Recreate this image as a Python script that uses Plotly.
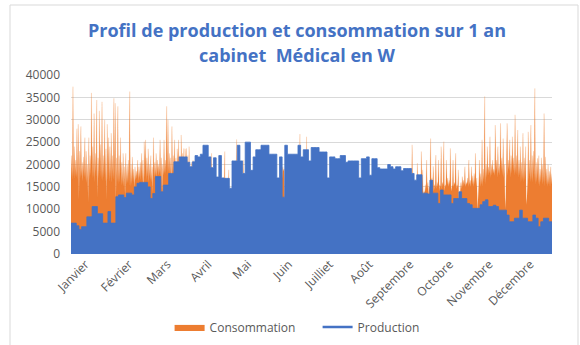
import plotly.graph_objects as go

# Month labels along the time axis and the day of year where each label sits
mois = ["Janvier", "Février", "Mars", "Avril", "Mai", "Juin", "Juilliet",
        "Août", "Septembre", "Octobre", "Novembre", "Décembre"]
jour_etiquette = [11, 44, 73, 104, 134, 165, 196, 226, 257, 287, 317, 348]

titre = ["Profil de production et consommation sur 1 an",
         "cabinet\u00a0 Médical en W"]

# Production (W): daily maximum, one value every 2 days
production = [
    6900, 6900, 6300, 5500, 6100, 6100, 8300, 8300, 10600, 10600,
    9000, 9000, 6900, 6900, 9500, 6900, 6900, 12800, 13200, 13200,
    12600, 13600, 13600, 13200, 15000, 15800, 16000, 16000, 16000, 15000,
    12400, 13500, 17300, 17300, 13900, 15400, 15400, 18000, 18000, 20600,
    20600, 21700, 21700, 21700, 20500, 19500, 20600, 22000, 21700, 22300,
    24300, 24300, 21700, 19300, 21500, 17200, 22000, 17000, 16900, 16900,
    14700, 20800, 20800, 24300, 20800, 18000, 25000, 25000, 18700, 21700,
    23300, 23300, 24300, 24300, 24300, 22300, 22300, 22300, 17000, 21700,
    12700, 24300, 22300, 22300, 22300, 22300, 24300, 21700, 23300, 23300,
    20800, 23800, 23800, 23800, 22800, 22800, 22800, 17000, 21700, 21700,
    21300, 21300, 22000, 22000, 20500, 20800, 20800, 20800, 20800, 17000,
    21300, 21300, 21700, 17600, 21300, 21300, 19300, 19000, 19000, 19000,
    20000, 19500, 19000, 19500, 19500, 18600, 19100, 19100, 19100, 18000,
    16500, 17700, 17700, 13600, 13600, 13400, 16500, 13600, 13600, 11300,
    14300, 13200, 13200, 13200, 11300, 12400, 12400, 13900, 12400, 12400,
    11300, 11000, 10200, 10200, 10200, 11000, 11700, 12100, 10600, 10600,
    10900, 10600, 9800, 9800, 9800, 8700, 7200, 7200, 8000, 8000,
    9800, 8000, 8000, 7200, 7200, 8700, 8000, 6100, 7200, 8000,
    8000, 7200, 7200,
]

# Consommation (W): daily peak
conso_pic = [
    22000, 37400, 24000, 21000, 28000, 29000, 23000, 28500, 20500, 21700,
    26000, 23000, 20000, 26000, 22000, 36000, 24000, 31400, 22500, 34400,
    21500, 32000, 24500, 34000, 22000, 30000, 23500, 29000, 26000, 24000,
    27000, 22000, 34800, 33700, 21500, 33000, 22000, 26000, 20500, 22500,
    19500, 22500, 20000, 21000, 36300, 20000, 21700, 19000, 19500, 18500,
    21000, 19500, 20500, 22500, 21000, 25100, 25500, 21500, 23500, 20000,
    22000, 19500, 26000, 20500, 22500, 21000, 20000, 25500, 21500, 20000,
    25500, 21000, 33000, 30000, 22500, 21500, 28500, 22000, 25500, 21500,
    23500, 25500, 22000, 26600, 22500, 23600, 23500, 23600, 22000, 24000,
    12500, 20500, 21000, 20000, 21500, 19500, 18000, 17500, 16000, 15500,
    15000, 14500, 15500, 12000, 11000, 15000, 22500, 14500, 15000, 14000,
    11500, 10500, 14500, 14000, 15000, 13500, 22900, 14000, 10000, 18800,
    13000, 12500, 13000, 12000, 10500, 25600, 14000, 13000, 14000, 10000,
    21000, 12500, 13500, 14000, 13000, 10500, 14500, 15000, 14500, 15500,
    14000, 11000, 15500, 15000, 16000, 14500, 15500, 12000, 15000, 16000,
    15500, 14500, 15000, 16000, 11500, 15000, 16000, 14500, 15500, 15000,
    19500, 19000, 14000, 15500, 15000, 16000, 11000, 15500, 16000, 15000,
    16000, 15500, 15000, 26800, 16000, 15500, 11500, 16000, 26200, 15500,
    15000, 16000, 15500, 11000, 15000, 15500, 16000, 15000, 15500, 16000,
    11500, 15000, 15500, 14500, 15000, 15500, 10500, 15000, 16000, 15500,
    15000, 15500, 14500, 11000, 15000, 15500, 16000, 15000, 14500, 15000,
    11000, 15000, 15500, 15000, 14500, 15500, 15000, 10500, 14500, 15000,
    15500, 15000, 14500, 14000, 10500, 15000, 15500, 14500, 15000, 14500,
    15000, 10000, 14500, 15000, 15500, 14500, 15000, 14000, 10500, 14500,
    15000, 15500, 14500, 15000, 14000, 10000, 14500, 15000, 15500, 15000,
    14500, 15000, 11000, 14500, 15500, 16000, 15000, 16500, 24400, 15500,
    16000, 14500, 20300, 15500, 16000, 22900, 18800, 14000, 15500, 21000,
    16000, 15000, 25800, 17000, 19600, 15500, 22100, 16000, 21000, 15500,
    24000, 16000, 25100, 15500, 21000, 17000, 16500, 23600, 15000, 21000,
    16000, 22500, 15500, 18800, 12000, 16000, 17300, 16500, 19500, 16000,
    17000, 21000, 16500, 19500, 17500, 18000, 22500, 17000, 12000, 21000,
    18000, 25500, 19000, 35200, 20000, 24000, 19500, 26200, 20000, 21000,
    19000, 28800, 21000, 24000, 20000, 29200, 21500, 25800, 20000, 12500,
    29200, 21000, 25500, 22000, 26200, 21500, 31100, 22000, 27700, 21000,
    24000, 20500, 27000, 21500, 24000, 12500, 27300, 21000, 28800, 22000,
    23000, 37000, 20500, 21400, 22000, 19000, 21500, 20000, 31400, 21700,
    19000, 20000, 18500, 19500, 18000,
]

# Consommation (W): daily low
conso_creux = [
    17000, 16500, 17200, 16800, 17000, 16500, 12000, 16800, 17300, 16200,
    17000, 16500, 15800, 11500, 16500, 17500, 16800, 17000, 16000, 17200,
    12500, 16800, 17000, 16500, 16200, 17000, 16000, 12000, 16500, 16000,
    16800, 15800, 16500, 16200, 11500, 16000, 15500, 15800, 15200, 15600,
    15000, 12500, 15500, 15800, 15200, 15000, 15400, 16000, 14500, 16500,
    16800, 16200, 17000, 16500, 16000, 13500, 17000, 16500, 17200, 16000,
    16500, 16000, 13500, 16800, 17500, 17000, 17500, 18000, 17200, 13000,
    17500, 18000, 17800, 17500, 18000, 17500, 14000, 17800, 18000, 17500,
    17000, 17500, 16500, 13500, 17000, 16500, 17000, 16000, 16500, 16000,
    10000, 15500, 16000, 15000, 15500, 14500, 13000, 12500, 12000, 11500,
    11000, 10500, 11000, 9000, 8500, 11000, 12000, 10500, 11000, 10000,
    8500, 8000, 10500, 10000, 11000, 10000, 12000, 10500, 8000, 12000,
    10000, 9500, 10000, 9000, 8000, 12000, 10500, 10000, 10500, 8000,
    12000, 9500, 10000, 10500, 10000, 8000, 11000, 11500, 11000, 11500,
    10500, 8500, 11500, 11000, 12000, 11000, 11500, 9000, 11000, 12000,
    11500, 11000, 11000, 12000, 9000, 11000, 12000, 11000, 11500, 11000,
    18500, 18500, 10500, 11500, 11000, 12000, 8500, 11500, 12000, 11000,
    12000, 11500, 11000, 12500, 12000, 11500, 9000, 12000, 12500, 11500,
    11000, 12000, 11500, 8500, 11000, 11500, 12000, 11000, 11500, 12000,
    9000, 11000, 11500, 11000, 11000, 11500, 8000, 11000, 12000, 11500,
    11000, 11500, 11000, 8500, 11000, 11500, 12000, 11000, 11000, 11000,
    8500, 11000, 11500, 11000, 11000, 11500, 11000, 8000, 11000, 11000,
    11500, 11000, 11000, 10500, 8000, 11000, 11500, 11000, 11000, 11000,
    11000, 8000, 11000, 11000, 11500, 11000, 11000, 10500, 8000, 11000,
    11000, 11500, 11000, 11000, 10500, 8000, 11000, 11500, 12000, 11500,
    11000, 11500, 8500, 11500, 12000, 12500, 12000, 13000, 14000, 13000,
    14000, 12000, 14500, 13500, 14000, 14500, 14000, 12000, 13500, 14000,
    14500, 13000, 15000, 14500, 15000, 14000, 15000, 14500, 15000, 14000,
    15000, 14500, 15500, 14000, 15000, 15500, 15000, 15500, 14000, 15500,
    15000, 15500, 14500, 15000, 10500, 15000, 14500, 15000, 15500, 15000,
    15500, 15000, 15500, 15000, 15500, 15000, 15500, 15000, 9500, 15500,
    15000, 15500, 15000, 16000, 15500, 17000, 17500, 18000, 17000, 17500,
    18000, 17500, 18500, 17000, 18000, 17500, 18500, 17500, 17000, 10000,
    18000, 17500, 18500, 17000, 18000, 18500, 17500, 18000, 17500, 17000,
    17500, 16000, 16500, 16000, 16500, 11000, 16000, 16500, 16000, 16500,
    16000, 16500, 15500, 16000, 15500, 15000, 16000, 15500, 16000, 15000,
    15500, 15000, 15500, 15000, 15500,
]

ORANGE = "#ED7D31"
BLEU = "#4472C4"
GRIS = "#595959"
FIN = 364.5

# Each day: low at the start of the day, peak half a day later
x_conso, y_conso = [], []
for jour, (creux, pic) in enumerate(zip(conso_creux, conso_pic)):
    x_conso += [jour, jour + 0.5]
    y_conso += [creux, pic]

x_prod = [2 * i for i in range(len(production))] + [FIN]
y_prod = production + [production[-1]]

fig = go.Figure()
fig.add_trace(go.Scatter(
    x=x_conso, y=y_conso, name="Consommation", mode="lines",
    line=dict(color="rgba(237,125,49,0.35)", width=0.5),
    fill="tozeroy", fillcolor=ORANGE,
))
fig.add_trace(go.Scatter(
    x=x_prod, y=y_prod, name="Production", mode="lines", line_shape="hv",
    line=dict(color=BLEU, width=0.8), fill="tozeroy", fillcolor=BLEU,
    showlegend=False,
))
# Legend entry for production drawn as a plain line
fig.add_trace(go.Scatter(
    x=[None], y=[None], name="Production", mode="lines",
    line=dict(color=BLEU, width=2.5),
))

# Two-line chart title, centred over the chart
annotations = [
    dict(text=ligne, x=(297 - 71) / 481, xref="x domain", y=yl,
         yref="y domain", xanchor="center", yanchor="middle", showarrow=False,
         font=dict(size=18, color=BLEU, weight="bold"))
    for ligne, yl in zip(titre, [(254 - 30) / 179, (254 - 55) / 179])
]

fig.update_layout(
    width=580, height=345, autosize=False,
    margin=dict(l=71, r=28, t=75, b=91, autoexpand=False),
    paper_bgcolor="white", plot_bgcolor="white",
    font=dict(family="Open Sans, Liberation Sans, sans-serif", color=GRIS),
    annotations=annotations,
    xaxis=dict(
        range=[0, FIN], showgrid=False, zeroline=False, showline=False,
        tickmode="array", tickvals=jour_etiquette, ticktext=mois,
        tickangle=-45, ticks="", tickfont=dict(size=12, color=GRIS),
        automargin=False,
    ),
    yaxis=dict(
        range=[0, 40000], dtick=5000, tickformat="d",
        showgrid=True, gridcolor="#D9D9D9", gridwidth=1,
        zeroline=False, showline=False, ticks="", automargin=False,
        ticklabelstandoff=10, tickfont=dict(size=12, color=GRIS),
    ),
    legend=dict(
        orientation="h", xref="container", yref="container",
        x=169.6 / 580, xanchor="left", y=1 - 327 / 345, yanchor="middle",
        font=dict(size=12, color=GRIS), entrywidth=103, entrywidthmode="pixels",
        traceorder="normal",
    ),
    shapes=[dict(
        type="rect", xref="paper", yref="paper", layer="below",
        x0=(10 - 71) / 481, x1=(578 - 71) / 481,
        y0=(254 - 348) / 179, y1=(254 - 5) / 179,
        line=dict(color="#D9D9D9", width=1), fillcolor="rgba(0,0,0,0)",
    )],
)

fig.write_html("out.html")
